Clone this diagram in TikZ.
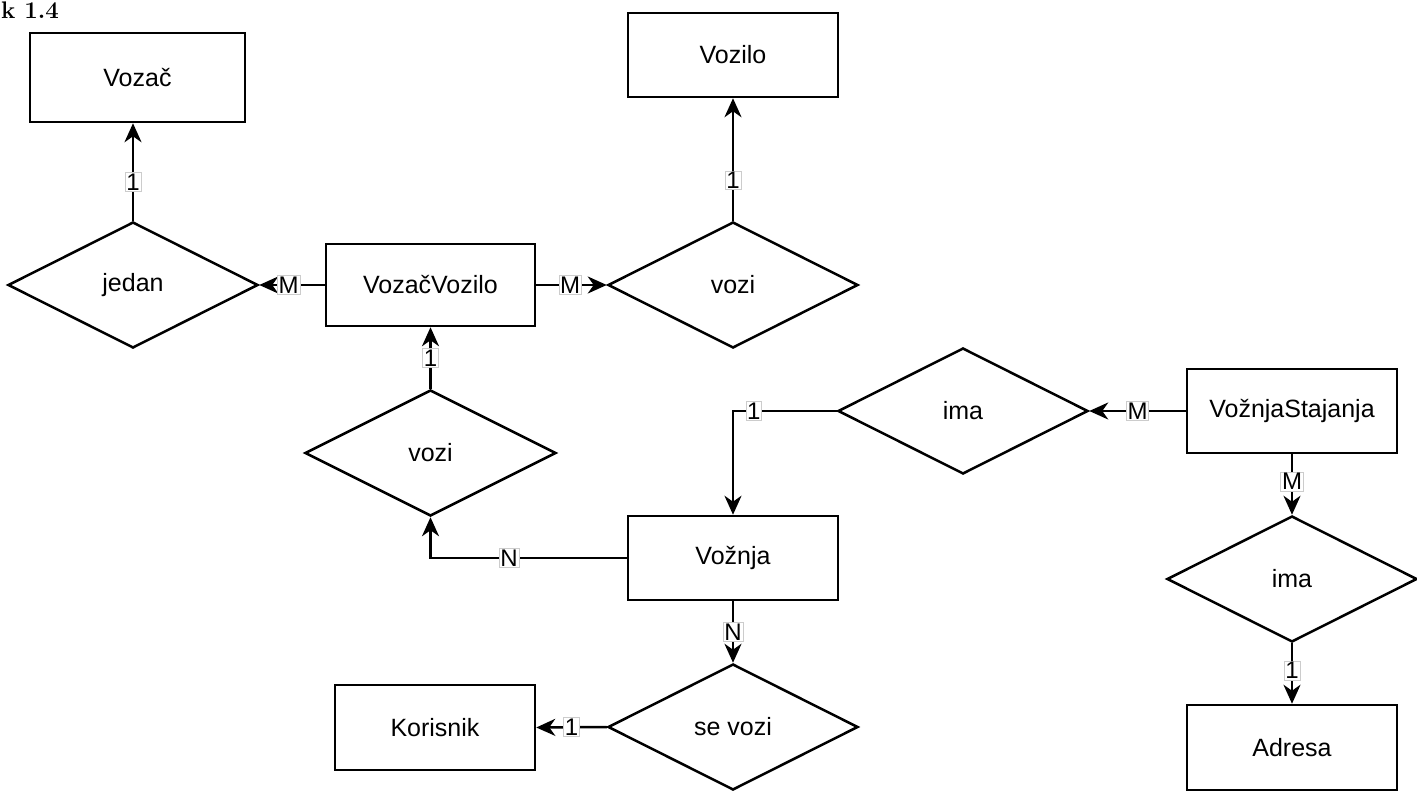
\documentclass[tikz,border=0pt]{standalone}
\usepackage{fontspec}
\setsansfont{Liberation Sans}
\usetikzlibrary{shapes.geometric,arrows.meta}
\begin{document}
\begin{tikzpicture}[x=1pt,y=-1pt,
  every node/.style={font=\sffamily\fontsize{25}{30}\selectfont},
  entity/.style={draw,line width=2.5pt,rectangle,minimum width=210pt,minimum height=84pt,inner sep=0pt},
  rel/.style={draw,line width=2.5pt,diamond,minimum width=250pt,minimum height=126pt,inner sep=0pt,aspect=2},
  conn/.style={line width=2.5pt,-{Stealth[length=19pt,width=17pt,inset=6pt]}},
  card/.style={fill=white,draw=black!20,line width=0.7pt,inner sep=1.2pt,font=\sffamily\fontsize{24}{26}\selectfont}
]
\useasboundingbox (0,0) rectangle (1417,791);

% caption fragment
\node[anchor=base west,inner sep=0pt,font=\rmfamily\bfseries\fontsize{24}{28}\selectfont] (cap) at (1,19) {k 1.4};

% entities
\node[entity,minimum width=215pt,minimum height=89pt] (vozac) at (137.5,77.5) {Vozač};
\node[entity] (vozilo) at (733,55) {Vozilo};
\node[entity,minimum width=209pt,minimum height=82pt] (vv) at (430.5,285) {VozačVozilo};
\node[entity] (vs) at (1292,411) {VožnjaStajanja};
\node[entity] (voznja) at (733,558) {Vožnja};
\node[entity,minimum width=200pt,minimum height=85pt] (korisnik) at (435,727.5) {Korisnik};
\node[entity,minimum height=85pt] (adresa) at (1292,747.5) {Adresa};

% relationships
\node[rel] (jedan) at (133,285) {jedan};
\node[rel] (vozi1) at (733,285) {vozi};
\node[rel,minimum width=251pt] (vozi2) at (430.5,453) {vozi};
\node[rel] (ima1) at (963,411) {ima};
\node[rel] (ima2) at (1292,579) {ima};
\node[rel] (sevozi) at (733,727) {se vozi};

% connectors
\draw[conn] (jedan.north) -- node[card,pos=0.4] {1} (jedan.north |- vozac.south);
\draw[conn] (vv.west) -- node[card,pos=0.55] {M} (jedan.east);
\draw[conn] (vv.east) -- node[card,pos=0.48] {M} (vozi1.west);
\draw[conn] (vozi1.north) -- node[card,pos=0.33] {1} (vozilo.south);
\draw[conn] (vozi2.north) -- node[card,pos=0.5] {1} (vv.south);
\coordinate (nbend) at (vozi2.south |- voznja.west);
\draw[conn] (voznja.west) -- node[card,pos=0.6] {N} (nbend) -- (vozi2.south);
\coordinate (ibend) at (voznja.north |- ima1.west);
\draw[conn] (ima1.west) -- node[card,pos=0.8] {1} (ibend) -- (voznja.north);
\draw[conn] (vs.west) -- node[card,pos=0.5] {M} (ima1.east);
\draw[conn] (vs.south) -- node[card,pos=0.45] {M} (ima2.north);
\draw[conn] (ima2.south) -- node[card,pos=0.45] {1} (adresa.north);
\draw[conn] (voznja.south) -- node[card,pos=0.5] {N} (sevozi.north);
\draw[conn] (sevozi.west) -- node[card,pos=0.5] {1} (korisnik.east);
\end{tikzpicture}
\end{document}
